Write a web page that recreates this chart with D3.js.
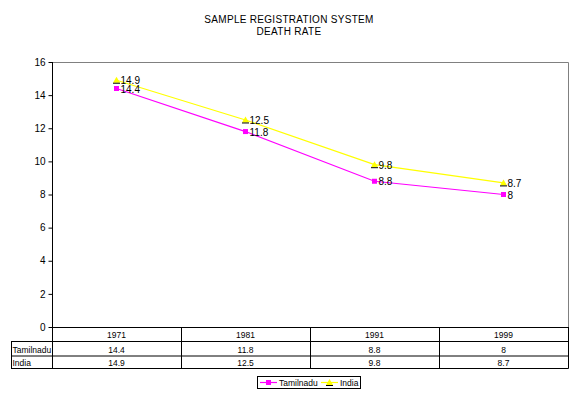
<!DOCTYPE html>
<html>
<head>
<meta charset="utf-8">
<script src="https://cdn.jsdelivr.net/npm/d3@7"></script>
<style>
  body { margin: 0; background: #fff; }
  svg text { font-family: Arial, "Liberation Sans", sans-serif; font-size: 10px; fill: #000; }
  svg text.small { font-size: 8.5px; }
</style>
</head>
<body>
<div id="chart"></div>
<script>
/* Data */
const years = ["1971", "1981", "1991", "1999"];
const tamilnadu = [14.4, 11.8, 8.8, 8];
const india = [14.9, 12.5, 9.8, 8.7];
const yTicks = [0, 2, 4, 6, 8, 10, 12, 14, 16];
const titleLines = ["SAMPLE REGISTRATION SYSTEM", "DEATH RATE"];

/* Layout */
const width = 577, height = 395;
const plot = { left: 52, right: 568, top: 62, bottom: 327 };

const svg = d3.select("#chart").append("svg")
  .attr("width", width)
  .attr("height", height);

// Scales
const x = d3.scaleBand().domain(years).range([plot.left, plot.right]);
const y = d3.scaleLinear().domain([0, 16]).range([plot.bottom, plot.top]);

// Title
titleLines.forEach(function(t, i) {
  svg.append("text")
    .attr("x", 289)
    .attr("y", 23 + i * 12)
    .attr("text-anchor", "middle")
    .attr("letter-spacing", "0.3px")
    .text(t);
});

// Plot frame (gray top and right)
svg.append("path")
  .attr("d", "M" + plot.left + "," + (plot.top + 0.5) + "H" + (plot.right + 0.5) + "V" + plot.bottom)
  .attr("fill", "none")
  .attr("stroke", "#808080");

// Y axis
const yAxis = svg.append("g")
  .attr("transform", "translate(" + (plot.left + 0.5) + ",0)")
  .call(d3.axisLeft(y).tickValues(yTicks).tickSize(4).tickPadding(3));
yAxis.select(".domain").remove();
yAxis.selectAll("line").attr("stroke", "#000");
yAxis.selectAll("text").attr("font-size", "10px").attr("font-family", "Arial, 'Liberation Sans', sans-serif");

// Left axis line extends into the table
svg.append("line")
  .attr("x1", plot.left + 0.5).attr("x2", plot.left + 0.5)
  .attr("y1", plot.top).attr("y2", 368.5)
  .attr("stroke", "#000");

// Data table
const rowY = [327, 341.5, 356, 368.5];
const tableLeft = 11;
svg.append("line").attr("x1", plot.left).attr("x2", plot.right + 0.5)
  .attr("y1", rowY[0] + 0.5).attr("y2", rowY[0] + 0.5).attr("stroke", "#000");
[rowY[1], rowY[2], rowY[3]].forEach(function(yy) {
  svg.append("line").attr("x1", tableLeft).attr("x2", plot.right + 0.5)
    .attr("y1", yy).attr("y2", yy).attr("stroke", "#000");
});
svg.append("line").attr("x1", tableLeft + 0.5).attr("x2", tableLeft + 0.5)
  .attr("y1", rowY[1]).attr("y2", rowY[3]).attr("stroke", "#000");
years.forEach(function(d) {
  const xx = Math.round(x(d) + x.bandwidth()) + 0.5;
  svg.append("line").attr("x1", xx).attr("x2", xx)
    .attr("y1", rowY[0]).attr("y2", rowY[3]).attr("stroke", "#000");
});

const rows = [
  { label: null, values: years },
  { label: "Tamilnadu", values: tamilnadu },
  { label: "India", values: india }
];
rows.forEach(function(r, i) {
  const cy = (rowY[i] + rowY[i + 1]) / 2 + 4;
  if (r.label) {
    svg.append("text").attr("class", "small")
      .attr("x", tableLeft + 1.5).attr("y", cy).text(r.label);
  }
  r.values.forEach(function(v, j) {
    svg.append("text")
      .attr("class", "small")
      .attr("x", x(years[j]) + x.bandwidth() / 2)
      .attr("y", cy)
      .attr("text-anchor", "middle")
      .text(v);
  });
});

// Series
const series = [
  { name: "Tamilnadu", values: tamilnadu, color: "#ff00ff", marker: "square" },
  { name: "India", values: india, color: "#ffff00", marker: "triangle" }
];

const line = d3.line()
  .x(function(d, i) { return x(years[i]) + x.bandwidth() / 2; })
  .y(function(d) { return y(d); });

function drawMarker(g, type, color, cx, cy) {
  if (type === "square") {
    g.append("rect").attr("x", cx - 2.5).attr("y", cy - 2.5)
      .attr("width", 5).attr("height", 5).attr("fill", color);
  } else {
    g.append("path")
      .attr("d", "M" + cx + "," + (cy - 3.5) + "L" + (cx + 3.5) + "," + (cy + 2.5) + "L" + (cx - 3.5) + "," + (cy + 2.5) + "Z")
      .attr("fill", color);
    g.append("line")
      .attr("x1", cx - 3.5).attr("x2", cx + 3.5)
      .attr("y1", cy + 3).attr("y2", cy + 3)
      .attr("stroke", "#000").attr("stroke-width", 1);
  }
}

series.forEach(function(s) {
  svg.append("path")
    .datum(s.values)
    .attr("d", line)
    .attr("fill", "none")
    .attr("stroke", s.color)
    .attr("stroke-width", 1.2);
});

series.forEach(function(s) {
  const g = svg.append("g");
  s.values.forEach(function(v, i) {
    const cx = x(years[i]) + x.bandwidth() / 2;
    const cy = y(v);
    drawMarker(g, s.marker, s.color, cx, cy);
    g.append("text")
      .attr("x", cx + 4)
      .attr("y", cy + 4)
      .text(v);
  });
});

// Legend
const legend = svg.append("g");
legend.append("rect")
  .attr("x", 257.5).attr("y", 376.5)
  .attr("width", 103).attr("height", 12)
  .attr("fill", "#fff").attr("stroke", "#000");
const legendItems = [
  { s: series[0], x0: 260, tx: 279 },
  { s: series[1], x0: 321, tx: 340 }
];
legendItems.forEach(function(it) {
  legend.append("line")
    .attr("x1", it.x0).attr("x2", it.x0 + 17)
    .attr("y1", 382.5).attr("y2", 382.5)
    .attr("stroke", it.s.color).attr("stroke-width", 1.2);
  drawMarker(legend, it.s.marker, it.s.color, it.x0 + 8.5, 382.5);
  legend.append("text").attr("class", "small")
    .attr("x", it.tx).attr("y", 386).text(it.s.name);
});
</script>
</body>
</html>
